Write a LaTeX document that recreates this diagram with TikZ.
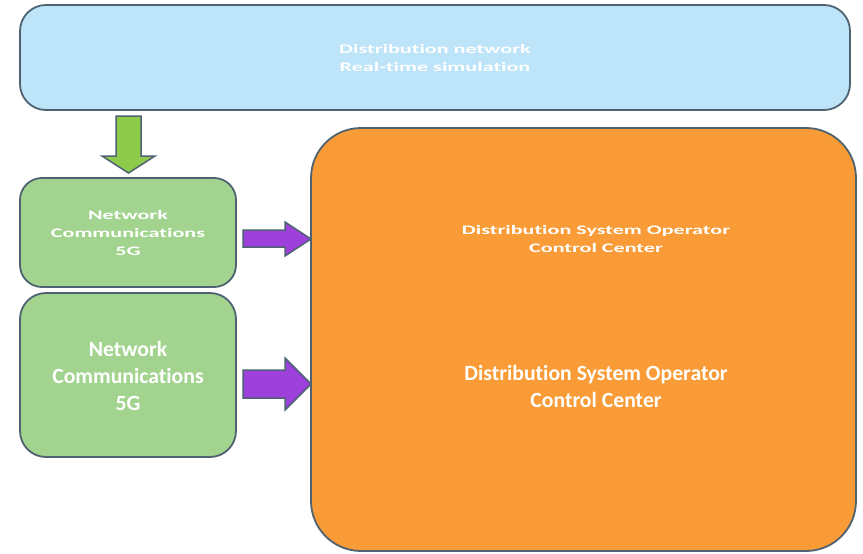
\documentclass[tikz,border=0pt]{standalone}
\usepackage{fontspec}
\setmainfont[Ligatures=NoCommon]{Carlito}
\newfontfamily\widefont[FakeStretch=1.7,Ligatures=NoCommon]{Carlito}
\definecolor{bluefill}{HTML}{BDE4F8}
\definecolor{greenfill}{HTML}{A3D48F}
\definecolor{orangefill}{HTML}{F99B36}
\definecolor{edgec}{HTML}{4F6272}
\definecolor{purplearrow}{HTML}{9E40DC}
\definecolor{greenarrow}{HTML}{8FCB4A}
\tikzset{
  box/.style={draw=edgec, line width=1.8pt},
  smalltxt/.style={text=white, align=center, font=\widefont\bfseries\fontsize{13}{18}\selectfont},
  bigtxt/.style={text=white, align=center, font=\bfseries\fontsize{21.7}{27}\selectfont},
  blockarrow/.style={draw=edgec, line width=1.5pt, line join=miter}
}
\begin{document}
\begin{tikzpicture}[x=1pt, y=-1pt]
\useasboundingbox (0,0) rectangle (863,554);
% boxes
\draw[box, fill=bluefill, rounded corners=26pt] (20,5) rectangle (850,110);
\draw[box, fill=greenfill, rounded corners=22pt] (20,178) rectangle (236,287);
\draw[box, fill=greenfill, rounded corners=26pt] (20,293) rectangle (236,457);
\draw[box, fill=orangefill, rounded corners=50pt] (311,128) rectangle (856,551);
% texts
\node[smalltxt] (sim) at (435,58) {Distribution network\\Real-time simulation};
\node[smalltxt] (nc1) at (128,233) {Network\\Communications\\5G};
\node[bigtxt] (nc2) at (128,376) {Network\\Communications\\5G};
\node[smalltxt] (dso1) at (596,239) {Distribution System Operator\\Control Center};
\node[bigtxt] (dso2) at (596,386) {Distribution System Operator\\Control Center};
% green arrow
\draw[blockarrow, fill=greenarrow] (116,116) -- (141,116) -- (141,156) -- (155,156) -- (128.5,173) -- (102,156) -- (116,156) -- cycle;
% purple arrows
\draw[blockarrow, fill=purplearrow] (243,230) -- (285,230) -- (285,222) -- (311,239) -- (285,256) -- (285,247) -- (243,247) -- cycle;
\draw[blockarrow, fill=purplearrow] (243,370) -- (285,370) -- (285,358) -- (311,384) -- (285,410) -- (285,398) -- (243,398) -- cycle;
\end{tikzpicture}
\end{document}
